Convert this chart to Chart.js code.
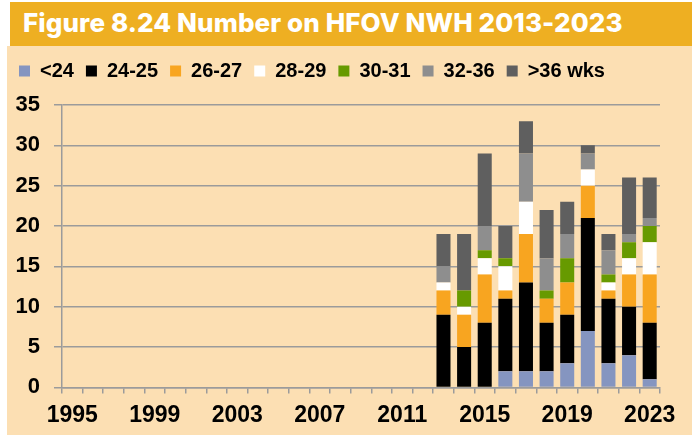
<!DOCTYPE html>
<html>
<head>
<meta charset="utf-8">
<script src="https://cdn.jsdelivr.net/npm/chart.js@4"></script>
<style>
    body { margin: 0; background: #fff; width: 696px; height: 439px; position: relative; overflow: hidden; }
    .banda { position: absolute; left: 10px; top: 2px; width: 682px; height: 44px; background: #EEAF22; }
    .banda h1 { margin: 0; position: absolute; left: 13px; top: 5px; color: #fff; font: 800 26px 'Inter', sans-serif; letter-spacing: 0.1px; white-space: nowrap; }
    .painel { position: absolute; left: 7px; top: 46px; width: 685px; height: 389px; background: #FCDFB3; }
    .painel canvas { position: absolute; left: 0; top: 0; }
</style>
</head>
<body>
<div class="banda"><h1>Figure 8.24 Number on HFOV NWH 2013-2023</h1></div>
<div class="painel"><canvas id="chart" width="685" height="391"></canvas></div>
<script>
const anos = ['1995', '1996', '1997', '1998', '1999', '2000', '2001', '2002', '2003', '2004',
    '2005', '2006', '2007', '2008', '2009', '2010', '2011', '2012', '2013', '2014',
    '2015', '2016', '2017', '2018', '2019', '2020', '2021', '2022', '2023'];

// anos com registro (2013-2023)
const anosDados = ['2013', '2014', '2015', '2016', '2017', '2018', '2019', '2020', '2021', '2022', '2023'];
const g24 = [0, 0, 0, 2, 2, 2, 3, 7, 3, 4, 1];
const g2425 = [9, 5, 8, 9, 11, 6, 6, 14, 8, 6, 7];
const g2627 = [3, 4, 6, 1, 6, 3, 4, 4, 1, 4, 6];
const g2829 = [1, 1, 2, 3, 4, 0, 0, 2, 1, 2, 4];
const g3031 = [0, 2, 1, 1, 0, 1, 3, 0, 1, 2, 2];
const g3236 = [2, 0, 3, 0, 6, 4, 3, 2, 3, 1, 1];
const g36 = [4, 7, 9, 4, 4, 6, 4, 1, 2, 7, 5];

const yTicks = [0, 5, 10, 15, 20, 25, 30, 35];

function completar(vals) {
    return anos.map(function (a) {
        let i = anosDados.indexOf(a);
        return i < 0 ? null : vals[i];
    });
}

const series = [
    {label: '<24', data: g24, cor: '#8595C0'},
    {label: '24-25', data: g2425, cor: '#000000'},
    {label: '26-27', data: g2627, cor: '#F8A520'},
    {label: '28-29', data: g2829, cor: '#FFFFFF'},
    {label: '30-31', data: g3031, cor: '#679A00'},
    {label: '32-36', data: g3236, cor: '#8E8E8E'},
    {label: '>36 wks', data: g36, cor: '#5F5F5F'}
];

const cinza = '#9B9B9B';

// espaco extra entre a legenda e o grafico
const espacoLegenda = {
    id: 'espacoLegenda',
    beforeInit: function (chart) {
        const fitOriginal = chart.legend.fit;
        chart.legend.fit = function () {
            fitOriginal.bind(chart.legend)();
            this.height += 14;
        };
    }
};

var ctx = document.getElementById('chart').getContext('2d');
var data = {
    labels: anos,
    datasets: series.map(function (s) {
        return {
            label: s.label,
            data: completar(s.data),
            backgroundColor: s.cor,
            borderWidth: 0,
            barPercentage: .68,
            categoryPercentage: 1
        };
    })
};

const config = {
    type: 'bar',
    data,
    plugins: [espacoLegenda],
    options: {
        responsive: false,
        animation: false,
        layout: {
            padding: {left: 0, right: 32, top: 3, bottom: 0}
        },
        plugins: {
            tooltip: {enabled: false},
            legend: {
                align: 'start',
                labels: {
                    boxWidth: 11,
                    boxHeight: 11,
                    padding: 12,
                    color: '#000',
                    font: {family: "'Liberation Sans', Arial, sans-serif", size: 20, weight: 'bold'}
                }
            }
        },
        scales: {
            x: {
                stacked: true,
                offset: true,
                border: {color: cinza, width: 1.5},
                grid: {
                    offset: true,
                    drawOnChartArea: false,
                    color: cinza,
                    lineWidth: 1.5,
                    tickLength: 6
                },
                ticks: {
                    autoSkip: false,
                    maxRotation: 0,
                    padding: 8,
                    color: '#000',
                    font: {family: "'Liberation Sans', Arial, sans-serif", size: 23, weight: 'bold'},
                    callback: function (val, index) {
                        return index % 4 === 0 ? anos[index] : '';
                    }
                }
            },
            y: {
                stacked: true,
                min: 0,
                max: 35,
                afterFit: function (scale) {
                    scale.width = 55;
                },
                afterBuildTicks: function (scale) {
                    scale.ticks = yTicks.map(function (v) {
                        return {value: v};
                    });
                },
                border: {color: cinza, width: 1.5},
                grid: {
                    color: cinza,
                    lineWidth: 1.5,
                    tickLength: 8
                },
                ticks: {
                    padding: 14,
                    color: '#000',
                    font: {family: "'Liberation Sans', Arial, sans-serif", size: 22, weight: 'bold'}
                }
            }
        }
    }
};
myChart = new Chart(ctx, config);
</script>
</body>
</html>
